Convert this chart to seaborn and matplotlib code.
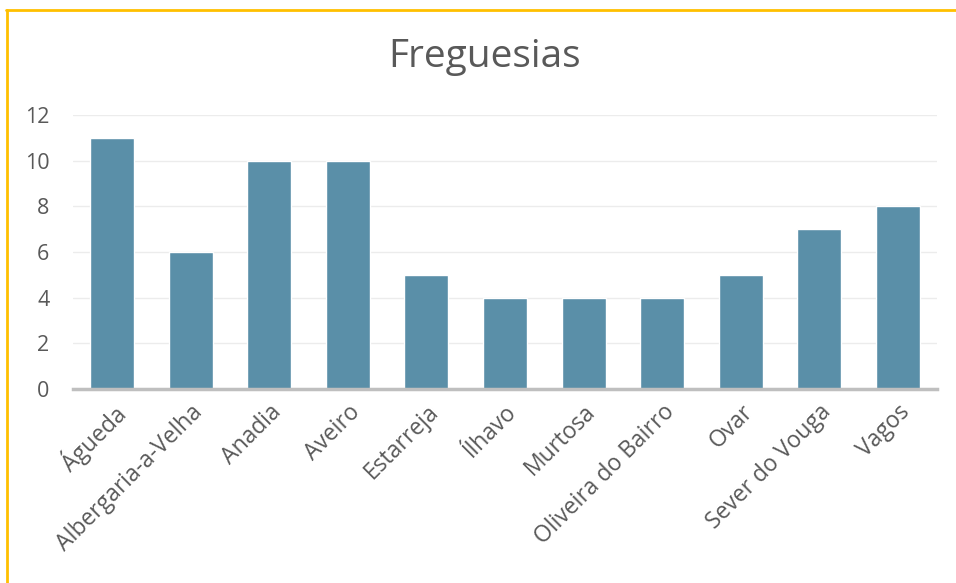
import matplotlib
matplotlib.use("Agg")
import matplotlib.pyplot as plt
import seaborn as sns
import pandas as pd
from matplotlib.lines import Line2D

categories = ["Águeda", "Albergaria-a-Velha", "Anadia", "Aveiro", "Estarreja", "Ílhavo",
              "Murtosa", "Oliveira do Bairro", "Ovar", "Sever do Vouga", "Vagos"]
values = [11, 6, 10, 10, 5, 4, 4, 4, 5, 7, 8]
yticks = [0, 2, 4, 6, 8, 10, 12]

df = pd.DataFrame({"cat": categories, "val": values})

sns.set_theme(style="white")
plt.rcParams['font.family'] = ['Open Sans', 'DejaVu Sans']

fig = plt.figure(figsize=(9.56, 5.83), dpi=100)
ax = fig.add_axes([73/956, 1 - 389/583, (937 - 73)/956, (389 - 115)/583])

sns.barplot(data=df, x="cat", y="val", color="#5a8fa8", width=0.56, saturation=1, ax=ax)

ax.set_ylim(0, 12)
ax.set_yticks(yticks)
ax.set_xlabel("")
ax.set_ylabel("")
ax.grid(axis="y", color="#ececec", linewidth=1)
ax.set_axisbelow(True)
for s in ["top", "right", "left"]:
    ax.spines[s].set_visible(False)
ax.spines["bottom"].set_color("#bfbfbf")
ax.spines["bottom"].set_linewidth(2.5)
ax.tick_params(axis="y", length=0, colors="#595959", labelsize=15.5, pad=17)
ax.tick_params(axis="x", length=0, colors="#595959", labelsize=16.5, pad=8)
plt.setp(ax.get_xticklabels(), rotation=45, ha="right", rotation_mode="anchor")
ax.set_xlim(-0.5, len(categories) - 0.5)

fig.text(485/956, 1 - 57/583, "Freguesias", ha="center", va="center", fontsize=28, color="#595959")

fig.add_artist(Line2D([6/956, 1], [1 - 10/583, 1 - 10/583], color="#ffc000", linewidth=2, transform=fig.transFigure))
fig.add_artist(Line2D([6.5/956, 6.5/956], [0, 1 - 10/583], color="#ffc000", linewidth=2, transform=fig.transFigure))

fig.savefig("out.png", dpi=100, facecolor="white")
